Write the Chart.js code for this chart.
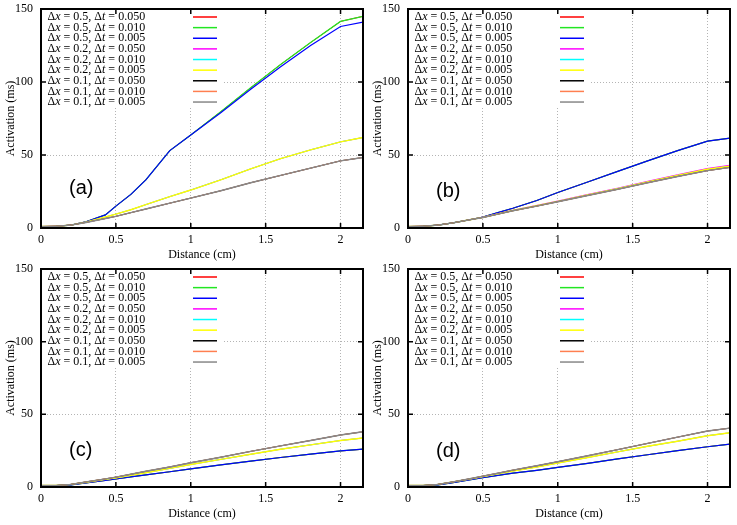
<!DOCTYPE html>
<html>
<head>
<meta charset="utf-8">
<script src="https://cdn.jsdelivr.net/npm/chart.js@4.4.0/dist/chart.umd.min.js"></script>
<style>
  body { margin: 0; background: #fff; }
  #wrap { position: relative; width: 737px; height: 525px; }
  canvas { position: absolute; }
</style>
</head>
<body>
<div id="wrap">
  <canvas id="chartA" width="367" height="262" style="left:0;top:0"></canvas>
  <canvas id="chartB" width="370" height="262" style="left:367px;top:0"></canvas>
  <canvas id="chartC" width="367" height="263" style="left:0;top:262px"></canvas>
  <canvas id="chartD" width="370" height="263" style="left:367px;top:262px"></canvas>
</div>
<script>
// ---- data ----
const distance = [0, 0.1, 0.2, 0.3, 0.43, 0.5, 0.6, 0.7, 0.86, 1.0, 1.2, 1.4, 1.6, 1.8, 2.0, 2.15];
const xTicks = [0, 0.5, 1, 1.5, 2];
const yTicks = [0, 50, 100, 150];
const dxLabels = ['0.5', '0.5', '0.5', '0.2', '0.2', '0.2', '0.1', '0.1', '0.1'];
const dtLabels = ['0.050', '0.010', '0.005', '0.050', '0.010', '0.005', '0.050', '0.010', '0.005'];
const lineColors = ['#ff0000', '#22e622', '#0000ff', '#ff00ff', '#00ffff', '#ffff00', '#000000', '#ff7f50', '#888888'];
// curves drawn last in a group are a bit wider so the ones below stay hidden
const lineWidths = [1, 1.2, 1.2, 1, 1, 1.4, 1, 1, 1.4];

// panel (a)
const aDx05Coarse = [1, 1.2, 2, 4.3, 9, 15, 23, 33, 53, 63.7, 79.6, 96, 112, 127, 141.5, 145];
const aDx05Fine   = [1, 1.2, 2, 4.3, 9, 15, 23, 33, 53, 63.7, 79, 95, 110.5, 125, 138, 141];
const aDx02       = [1, 1.2, 2, 4, 7.5, 9.5, 12.5, 16, 21.5, 26, 33, 40.5, 47.5, 53.5, 59, 62];
const aDx01       = [1, 1.2, 2, 3.8, 6.5, 8, 10.5, 13, 17, 20.5, 25.5, 31, 36, 41, 46, 48.3];

// panel (b)
const bDx05       = [1, 1.2, 2, 3.5, 6, 7.5, 10.5, 13.5, 18.8, 24.3, 31.5, 38.8, 46, 53, 59.5, 61.5];
const bDx02Coarse = [1, 1.2, 2, 3.5, 6, 7.4, 9.8, 12.2, 15.5, 18.5, 23, 27.3, 32, 36.5, 40.8, 43];
const bDx02       = [1, 1.2, 2, 3.5, 6, 7.3, 9.6, 12, 15.2, 18.2, 22.6, 27, 31.5, 36, 40.2, 42.3];
const bDx01       = [1, 1.2, 2, 3.5, 6, 7.2, 9.5, 11.8, 15, 18, 22.3, 26.5, 31, 35.3, 39.3, 41.5];

// panel (c)
const cDx05 = [1, 1, 1.5, 2.8, 4.5, 5.5, 7, 8.3, 10.5, 12.5, 15.2, 17.8, 20.3, 22.6, 24.8, 26];
const cDx02 = [1, 1, 1.8, 3.3, 5.3, 6.3, 8, 9.8, 12.8, 15.5, 19, 22.5, 26, 29, 32, 33.7];
const cDx01 = [1, 1, 1.8, 3.5, 5.6, 6.8, 8.8, 10.8, 13.8, 16.7, 20.5, 24.5, 28.3, 32, 35.8, 38];

// panel (d)
const dDx05 = [1, 1, 1.5, 3, 5.3, 6.5, 8, 9.5, 11.5, 13.5, 16.3, 19.3, 22.2, 25, 27.7, 29.5];
const dDx02 = [1, 1, 1.8, 3.5, 5.8, 7.2, 9, 11, 13.8, 16.5, 20.3, 24.2, 28, 31.5, 35.3, 37.3];
const dDx01 = [1, 1, 1.8, 3.5, 6, 7.5, 9.5, 11.6, 14.6, 17.4, 21.5, 25.7, 30, 34.3, 38.5, 40.5];

// one entry per legend row (red, green, blue, magenta, cyan, yellow, black, orange, gray)
const seriesA = [aDx05Coarse, aDx05Coarse, aDx05Fine, aDx02, aDx02, aDx02, aDx01, aDx01, aDx01];
const seriesB = [bDx05, bDx05, bDx05, bDx02Coarse, bDx02, bDx02, bDx01, bDx01, bDx01];
const seriesC = [cDx05, cDx05, cDx05, cDx02, cDx02, cDx02, cDx01, cDx01, cDx01];
const seriesD = [dDx05, dDx05, dDx05, dDx02, dDx02, dDx02, dDx01, dDx01, dDx01];

const serif = '"Liberation Serif", "DejaVu Serif", serif';

// white legend box (hides the grid behind it)
const legendPlugin = {
  id: 'stepLegend',
  beforeDatasetsDraw(chart) {
    const a = chart.chartArea, ctx = chart.ctx;
    ctx.save();
    ctx.fillStyle = '#fff';
    ctx.fillRect(a.left, a.top, 182, 99);
    ctx.restore();
  },
  afterDatasetsDraw(chart) {
    const a = chart.chartArea, ctx = chart.ctx;
    ctx.save();
    ctx.setLineDash([]);
    ctx.textBaseline = 'middle';
    chart.data.datasets.forEach((ds, i) => {
      const y = a.top + 8 + i * 10.63;
      let x = a.left + 6.5;
      const parts = [['\u0394', false], ['x', true], [' = ' + dxLabels[i] + ', ', false],
                     ['\u0394', false], ['t', true], [' = ' + dtLabels[i], false]];
      parts.forEach(([txt, it]) => {
        ctx.font = (it ? 'italic ' : '') + '12px ' + serif;
        ctx.fillStyle = '#000';
        ctx.fillText(txt, x, y);
        x += ctx.measureText(txt).width;
      });
      ctx.strokeStyle = ds.borderColor;
      ctx.lineWidth = 1.5;
      ctx.beginPath();
      ctx.moveTo(a.left + 152, y);
      ctx.lineTo(a.left + 176, y);
      ctx.stroke();
    });
    ctx.restore();
  }
};

// border, inward ticks on all sides, panel tag
const framePlugin = {
  id: 'frame',
  afterDatasetsDraw(chart, args, opts) {
    const { ctx, chartArea: a, scales: { x, y } } = chart;
    ctx.save();
    ctx.setLineDash([]);
    ctx.strokeStyle = '#000';
    ctx.lineWidth = 1.5;
    ctx.beginPath();
    xTicks.forEach(v => {
      const px = x.getPixelForValue(v);
      ctx.moveTo(px, a.bottom); ctx.lineTo(px, a.bottom - 5);
      ctx.moveTo(px, a.top); ctx.lineTo(px, a.top + 5);
    });
    yTicks.forEach(v => {
      const py = y.getPixelForValue(v);
      ctx.moveTo(a.left, py); ctx.lineTo(a.left + 5, py);
      ctx.moveTo(a.right, py); ctx.lineTo(a.right - 5, py);
    });
    ctx.stroke();
    ctx.lineWidth = 2;
    ctx.strokeRect(a.left, a.top, a.right - a.left, a.bottom - a.top);
    ctx.fillStyle = '#000';
    ctx.font = '20px "Liberation Sans", Arial, sans-serif';
    ctx.textBaseline = 'middle';
    ctx.fillText(opts.tag, a.left + 28, a.bottom - opts.tagOffset);
    ctx.restore();
  }
};

function makeChart(id, series, tag, tagOffset, padTop, padRight, padBottom) {
  const edgeless = max => c => (c.tick.value <= 0 || c.tick.value >= max) ? 'rgba(0,0,0,0)' : '#b4b4b4';
  return new Chart(document.getElementById(id), {
    type: 'line',
    data: {
      datasets: series.map((vals, i) => ({
        label: '\u0394x = ' + dxLabels[i] + ', \u0394t = ' + dtLabels[i],
        data: distance.map((d, k) => ({ x: d, y: vals[k] })),
        borderColor: lineColors[i],
        borderWidth: lineWidths[i],
        pointRadius: 0,
        tension: 0,
        fill: false,
        order: 8 - i
      }))
    },
    options: {
      responsive: false,
      animation: false,
      events: [],
      layout: { padding: { left: 0, top: padTop, right: padRight, bottom: padBottom } },
      plugins: {
        legend: { display: false },
        tooltip: { enabled: false },
        frame: { tag: tag, tagOffset: tagOffset }
      },
      scales: {
        x: {
          type: 'linear',
          min: 0,
          max: 2.15,
          afterBuildTicks: s => { s.ticks = xTicks.map(v => ({ value: v })); },
          afterFit: s => { s.height = 34; s.paddingLeft = 0; s.paddingRight = 0; },
          grid: { color: edgeless(2.15), drawTicks: false, lineWidth: 1 },
          border: { display: false, dash: [1, 2] },
          ticks: { color: '#000', padding: 5, font: { family: serif, size: 12 }, callback: v => String(v) },
          title: { display: true, text: 'Distance (cm)', color: '#000', padding: { top: 0, bottom: 0 }, font: { family: serif, size: 12 } }
        },
        y: {
          min: 0,
          max: 150,
          afterBuildTicks: s => { s.ticks = yTicks.map(v => ({ value: v })); },
          afterFit: s => { s.width = 41; s.paddingTop = 0; s.paddingBottom = 0; },
          grid: { color: edgeless(150), drawTicks: false, lineWidth: 1 },
          border: { display: false, dash: [1, 2] },
          ticks: { color: '#000', padding: 8, font: { family: serif, size: 12 }, callback: v => String(v) },
          title: { display: true, text: 'Activation (ms)', color: '#000', padding: { top: 4, bottom: 0 }, font: { family: serif, size: 12 } }
        }
      }
    },
    plugins: [legendPlugin, framePlugin]
  });
}

makeChart('chartA', seriesA, '(a)', 39.5, 9, 4, 0);
makeChart('chartB', seriesB, '(b)', 36.5, 9, 7, 0);
makeChart('chartC', seriesC, '(c)', 37, 7, 4, 4);
makeChart('chartD', seriesD, '(d)', 35.5, 7, 7, 4);
</script>
</body>
</html>
